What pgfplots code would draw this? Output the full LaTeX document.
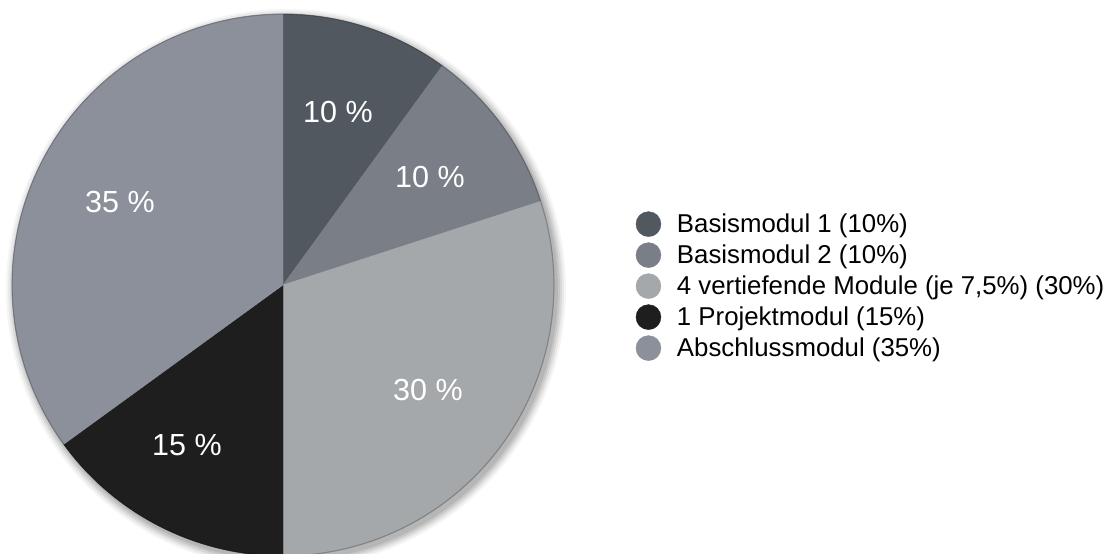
\documentclass[border=0pt]{standalone}
\usepackage{fontspec}
\setmainfont{Liberation Sans}
\usepackage{pgfplots}
\pgfplotsset{compat=1.18}
\definecolor{cA}{RGB}{82,88,96}
\definecolor{cB}{RGB}{121,126,135}
\definecolor{cC}{RGB}{164,168,170}
\definecolor{cD}{RGB}{30,30,30}
\definecolor{cE}{RGB}{139,144,155}
\begin{document}
\begin{tikzpicture}
\begin{axis}[
  width=556.5pt, height=276.5pt, scale only axis,
  xmin=0, xmax=1113, ymin=0, ymax=553,
  axis line style={draw=none}, xtick=\empty, ytick=\empty,
  legend image code/.code={\path[use as bounding box, fill=none, draw=none] (0pt,-4pt) rectangle (12.5pt,11pt);
    \fill[#1] (6.25pt,0.7pt) circle (6.25pt);},
  legend style={draw=none, fill=none, inner sep=0pt, outer sep=0pt,
    at={(0.5714,0.4864)}, anchor=west,
    font=\fontsize{12.9}{15}\selectfont, row sep=-3pt, column sep=8pt,
    nodes={inner sep=0pt, text height=11pt, text depth=4pt}},
  legend cell align=left,
]
% soft shadow
\addplot[forget plot, fill=black, fill opacity=0.09, draw=none, domain=0:100, samples=150] ({286+272*sin(3.6*x)},{264+272*cos(3.6*x)}) -- cycle;
\addplot[forget plot, fill=black, fill opacity=0.08, draw=none, domain=0:100, samples=150] ({286+274*sin(3.6*x)},{264+274*cos(3.6*x)}) -- cycle;
\addplot[forget plot, fill=black, fill opacity=0.07, draw=none, domain=0:100, samples=150] ({286+276*sin(3.6*x)},{264+276*cos(3.6*x)}) -- cycle;
\addplot[forget plot, fill=black, fill opacity=0.05, draw=none, domain=0:100, samples=150] ({286+278*sin(3.6*x)},{264+278*cos(3.6*x)}) -- cycle;
\addplot[forget plot, fill=black, fill opacity=0.04, draw=none, domain=0:100, samples=150] ({286+280*sin(3.6*x)},{264+280*cos(3.6*x)}) -- cycle;
% slices (percent boundaries 0,10,20,50,65,100; clockwise from the top)
\addplot[fill=cA, draw=cA, line width=0.2pt, domain=0:10, samples=30] ({283+271*sin(3.6*x)},{268+271*cos(3.6*x)}) -- (axis cs:283,268) -- cycle;
\addlegendentry{Basismodul 1 (10\%)}
\addplot[fill=cB, draw=cB, line width=0.2pt, domain=10:20, samples=30] ({283+271*sin(3.6*x)},{268+271*cos(3.6*x)}) -- (axis cs:283,268) -- cycle;
\addlegendentry{Basismodul 2 (10\%)}
\addplot[fill=cC, draw=cC, line width=0.2pt, domain=20:50, samples=80] ({283+271*sin(3.6*x)},{268+271*cos(3.6*x)}) -- (axis cs:283,268) -- cycle;
\addlegendentry{4 vertiefende Module (je 7,5\%) (30\%)}
\addplot[fill=cD, draw=cD, line width=0.2pt, domain=50:65, samples=40] ({283+271*sin(3.6*x)},{268+271*cos(3.6*x)}) -- (axis cs:283,268) -- cycle;
\addlegendentry{1 Projektmodul (15\%)}
\addplot[fill=cE, draw=cE, line width=0.2pt, domain=65:100, samples=90] ({283+271*sin(3.6*x)},{268+271*cos(3.6*x)}) -- (axis cs:283,268) -- cycle;
\addlegendentry{Abschlussmodul (35\%)}
% rim
\addplot[forget plot, draw=black, draw opacity=0.22, line width=0.6pt, domain=0:100, samples=200] ({283+271*sin(3.6*x)},{268+271*cos(3.6*x)});
% labels
\node[text=white, font=\fontsize{15.25}{18}\selectfont] at (axis cs:338,440.5) {10 \%};
\node[text=white, font=\fontsize{15.25}{18}\selectfont] at (axis cs:430,376) {10 \%};
\node[text=white, font=\fontsize{15.25}{18}\selectfont] at (axis cs:428,163) {30 \%};
\node[text=white, font=\fontsize{15.25}{18}\selectfont] at (axis cs:187,108) {15 \%};
\node[text=white, font=\fontsize{15.25}{18}\selectfont] at (axis cs:120,351) {35 \%};
\end{axis}
\end{tikzpicture}
\end{document}
